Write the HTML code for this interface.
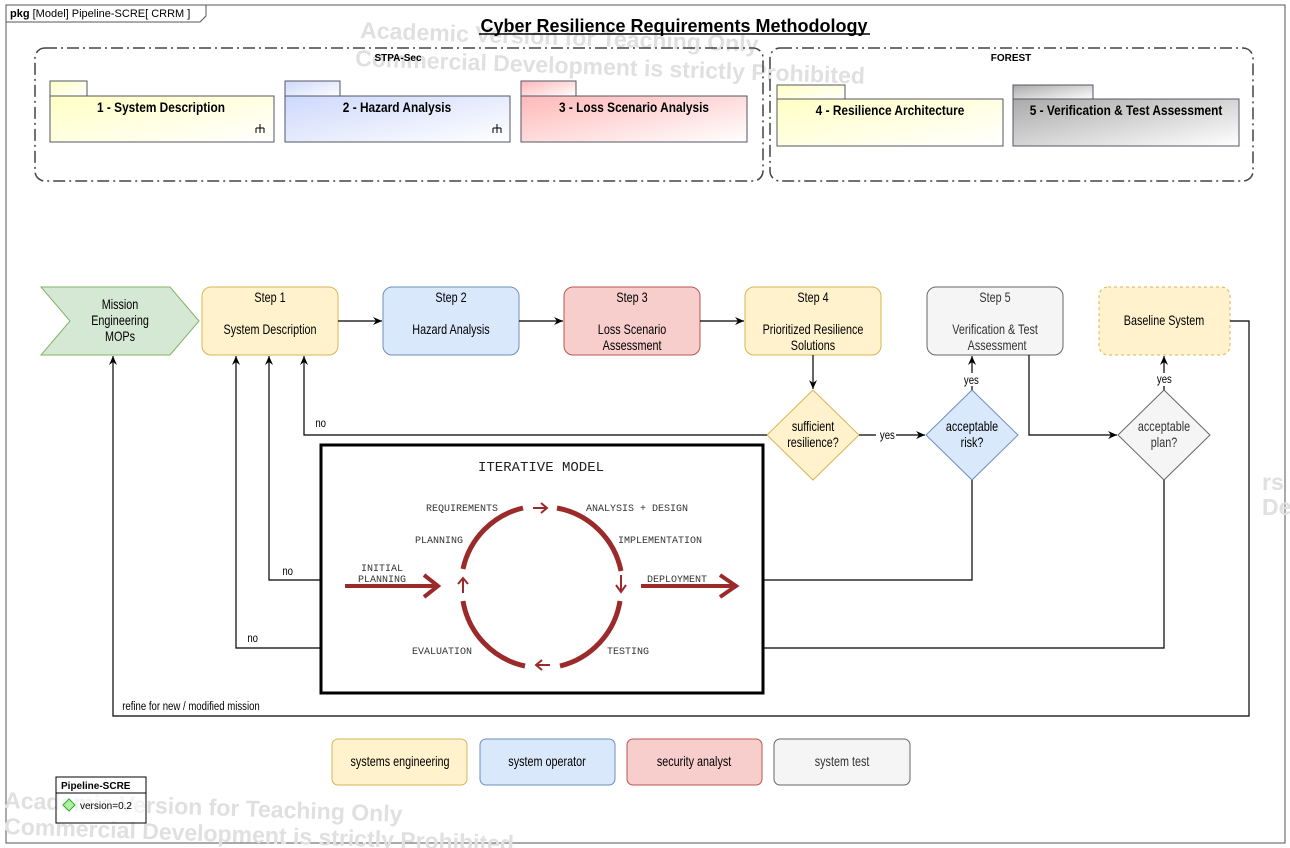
<!DOCTYPE html>
<html><head><meta charset="utf-8"><style>
html,body{margin:0;padding:0;background:#fff;}
svg{display:block;}
.n{font-family:"Liberation Sans",sans-serif;font-size:13.5px;fill:#000;}
.n text{transform-box:fill-box;transform-origin:center;transform:scaleX(0.8);}
.b{font-family:"Liberation Sans",sans-serif;font-weight:bold;}
.pk{transform-box:fill-box;transform-origin:center;transform:scaleX(0.88);}
.m{font-family:"Liberation Mono","DejaVu Sans Mono",monospace;font-size:10px;fill:#333;}
.wm{font-family:"Liberation Sans",sans-serif;font-size:23px;font-weight:bold;fill:#e0e0e0;}
</style></head><body>
<svg width="1290" height="848" viewBox="0 0 1290 848" xmlns="http://www.w3.org/2000/svg">
<defs>
<marker id="a" markerWidth="10" markerHeight="10" refX="9" refY="5" orient="auto" markerUnits="userSpaceOnUse"><path d="M0,1 L9,5 L0,9 L3,5 z" fill="#000"/></marker>
<linearGradient id="g1" x1="0" x2="1" y1="0" y2="1"><stop offset="0" stop-color="#ffffc4"/><stop offset="1" stop-color="#fff"/></linearGradient>
<linearGradient id="g2" x1="0" x2="1" y1="0" y2="1"><stop offset="0" stop-color="#cdd8fb"/><stop offset="1" stop-color="#fff"/></linearGradient>
<linearGradient id="g3" x1="0" x2="1" y1="0" y2="1"><stop offset="0" stop-color="#ffb8b8"/><stop offset="1" stop-color="#fff"/></linearGradient>
<linearGradient id="g5" x1="0" x2="1" y1="0" y2="1"><stop offset="0" stop-color="#aaa"/><stop offset="1" stop-color="#fff"/></linearGradient>
</defs>
<rect x="6" y="5" width="1279" height="838" fill="#fff" stroke="#555"/>
<path d="M6,22 H200 L206,16 V5" fill="none" stroke="#555"/>
<text x="10" y="17" font-family="Liberation Sans,sans-serif" font-size="11"><tspan font-weight="bold">pkg</tspan> [Model] Pipeline-SCRE[ CRRM ]</text>
<text class="wm" x="360" y="38" transform="rotate(2 360 38)">Academic Version for Teaching Only</text>
<text class="wm" x="355" y="66" transform="rotate(2 355 66)">Commercial Development is strictly Prohibited</text>
<text class="b" x="674" y="32" font-size="18" text-anchor="middle">Cyber Resilience Requirements Methodology</text>
<line x1="479" y1="34" x2="870" y2="34" stroke="#000" stroke-width="1.5"/>
<rect x="35" y="48" width="728" height="133" rx="10" fill="none" stroke="#444" stroke-width="1.5" stroke-dasharray="12,4,2,4"/>
<rect x="770" y="48" width="483" height="133" rx="10" fill="none" stroke="#444" stroke-width="1.5" stroke-dasharray="12,4,2,4"/>
<text class="b" x="398" y="61" font-size="10" text-anchor="middle">STPA-Sec</text>
<text class="b" x="1011" y="61" font-size="10" text-anchor="middle">FOREST</text>
<g stroke="#556" fill="url(#g1)"><rect x="50" y="81" width="37" height="16"/><rect x="50" y="96" width="224" height="46"/></g>
<g stroke="#556" fill="url(#g2)"><rect x="285" y="81" width="55" height="16"/><rect x="285" y="96" width="225" height="46"/></g>
<g stroke="#556" fill="url(#g3)"><rect x="521" y="81" width="55" height="16"/><rect x="521" y="96" width="226" height="46"/></g>
<g stroke="#556" fill="url(#g1)"><rect x="777" y="85" width="68" height="15"/><rect x="777" y="99" width="226" height="47"/></g>
<g stroke="#556" fill="url(#g5)"><rect x="1013" y="85" width="80" height="15"/><rect x="1013" y="99" width="226" height="47"/></g>
<g class="b" font-size="13.5" text-anchor="middle">
<text class="pk" x="161" y="112">1 - System Description</text>
<text class="pk" x="397" y="112">2 - Hazard Analysis</text>
<text class="pk" x="634" y="112">3 - Loss Scenario Analysis</text>
<text class="pk" x="890" y="115">4 - Resilience Architecture</text>
<text class="pk" x="1126" y="115">5 - Verification &amp; Test Assessment</text>
</g>
<g stroke="#000" fill="none"><path d="M260,133 V124 M256,128 H264 M256,128 V133 M264,128 V133"/><path d="M497,133 V124 M493,128 H501 M493,128 V133 M501,128 V133"/></g>
<path d="M41,287 H170 L199,321 L170,355 H41 L70,321 Z" fill="#d5e8d4" stroke="#82b366"/>
<g class="n" text-anchor="middle">
<text x="120" y="309">Mission</text>
<text x="120" y="325">Engineering</text>
<text x="120" y="341">MOPs</text>
</g>
<rect x="202" y="287" width="136" height="68" rx="9" fill="#fff2cc" stroke="#d6b656"/>
<rect x="383" y="287" width="136" height="68" rx="9" fill="#dae8fc" stroke="#6c8ebf"/>
<rect x="564" y="287" width="136" height="68" rx="9" fill="#f8cecc" stroke="#b85450"/>
<rect x="745" y="287" width="136" height="68" rx="9" fill="#fff2cc" stroke="#d6b656"/>
<rect x="927" y="287" width="136" height="68" rx="9" fill="#f5f5f5" stroke="#666"/>
<rect x="1099" y="287" width="131" height="68" rx="9" fill="#fff2cc" stroke="#d6b656" stroke-dasharray="3,3"/>
<g class="n" text-anchor="middle">
<text x="270" y="302">Step 1</text><text x="270" y="334">System Description</text>
<text x="451" y="302">Step 2</text><text x="451" y="334">Hazard Analysis</text>
<text x="632" y="302">Step 3</text><text x="632" y="334">Loss Scenario</text><text x="632" y="350">Assessment</text>
<text x="813" y="302">Step 4</text><text x="813" y="334">Prioritized Resilience</text><text x="813" y="350">Solutions</text>
<text x="995" y="302" fill="#333">Step 5</text><text x="995" y="334" fill="#333">Verification &amp; Test</text><text x="997" y="350" fill="#333">Assessment</text>
<text x="1164" y="325">Baseline System</text>
</g>
<polygon points="813,390 859,435 813,480 767,435" fill="#fff2cc" stroke="#d6b656"/>
<polygon points="972,390 1018,435 972,480 926,435" fill="#dae8fc" stroke="#6c8ebf"/>
<polygon points="1164,390 1210,435 1164,480 1118,435" fill="#f5f5f5" stroke="#666"/>
<g class="n" text-anchor="middle">
<text x="813" y="431">sufficient</text><text x="813" y="447">resilience?</text>
<text x="972" y="431">acceptable</text><text x="972" y="447">risk?</text>
<text x="1164" y="431" fill="#333">acceptable</text><text x="1164" y="447" fill="#333">plan?</text>
</g>
<g stroke="#000" fill="none" stroke-width="1.2">
<line x1="338" y1="321" x2="382" y2="321" marker-end="url(#a)"/>
<line x1="519" y1="321" x2="563" y2="321" marker-end="url(#a)"/>
<line x1="700" y1="321" x2="744" y2="321" marker-end="url(#a)"/>
<line x1="813" y1="355" x2="813" y2="389" marker-end="url(#a)"/>
<polyline points="767,435 304,435 304,356" marker-end="url(#a)"/>
<line x1="859" y1="435" x2="925" y2="435" marker-end="url(#a)"/>
<line x1="972" y1="390" x2="972" y2="356" marker-end="url(#a)"/>
<polyline points="1029,355 1029,435 1117,435" marker-end="url(#a)"/>
<line x1="1164" y1="390" x2="1164" y2="356" marker-end="url(#a)"/>
<polyline points="1230,321 1249,321 1249,716 113,716 113,356" marker-end="url(#a)"/>
<polyline points="972,480 972,580 763,580"/>
<polyline points="321,580 269,580 269,356" marker-end="url(#a)"/>
<polyline points="1164,480 1164,648 763,648"/>
<polyline points="321,648 236,648 236,356" marker-end="url(#a)"/>
</g>
<rect x="876" y="429" width="20" height="12" fill="#fff"/>
<rect x="961" y="373" width="22" height="13" fill="#fff"/>
<rect x="1153" y="373" width="22" height="13" fill="#fff"/>
<g class="n" style="font-size:12px">
<text x="878" y="439">yes</text>
<text x="962" y="384">yes</text>
<text x="1155" y="383">yes</text>
<text x="314" y="427">no</text><text x="281" y="575">no</text><text x="246" y="642">no</text>
<text x="105" y="710">refine for new / modified mission</text>
</g>
<rect x="321" y="445" width="442" height="248" fill="#fff" stroke="#000" stroke-width="3"/>
<text x="541" y="471" font-family="Liberation Mono,monospace" font-size="14" fill="#222" text-anchor="middle">ITERATIVE MODEL</text>
<g fill="none" stroke="#9b2a2a" stroke-width="5">
<path d="M463,569 A80,80 0 0 1 523,508"/>
<path d="M557,508 A80,80 0 0 1 621,571"/>
<path d="M620,601 A80,80 0 0 1 560,666"/>
<path d="M525,666 A80,80 0 0 1 463,601"/>
<path d="M345,586 H436 M424,575 L438,586 L424,597" stroke-width="4"/>
<path d="M641,586 H734 M720,575 L736,586 L720,597" stroke-width="4"/>
<path d="M533,508 H546 M541,503 L547,508 L541,513" stroke-width="2"/>
<path d="M621,575 V590 M616,585 L621,592 L626,585" stroke-width="2"/>
<path d="M550,665 H537 M542,660 L536,665 L542,670" stroke-width="2"/>
<path d="M463,593 V579 M458,584 L463,578 L468,584" stroke-width="2"/>
</g>
<g class="m">
<text x="426" y="511">REQUIREMENTS</text>
<text x="586" y="511">ANALYSIS + DESIGN</text>
<text x="415" y="543">PLANNING</text>
<text x="618" y="543">IMPLEMENTATION</text>
<text x="361" y="571">INITIAL</text><text x="358" y="582">PLANNING</text>
<text x="647" y="582">DEPLOYMENT</text>
<text x="412" y="654">EVALUATION</text>
<text x="607" y="654">TESTING</text>
</g>
<rect x="332" y="739" width="135" height="46" rx="6" fill="#fff2cc" stroke="#d6b656"/>
<rect x="480" y="739" width="135" height="46" rx="6" fill="#dae8fc" stroke="#6c8ebf"/>
<rect x="627" y="739" width="135" height="46" rx="6" fill="#f8cecc" stroke="#b85450"/>
<rect x="774" y="739" width="136" height="46" rx="6" fill="#f5f5f5" stroke="#666"/>
<g class="n" text-anchor="middle">
<text x="400" y="766">systems engineering</text>
<text x="547" y="766">system operator</text>
<text x="694" y="766">security analyst</text>
<text x="842" y="766" fill="#333">system test</text>
</g>
<text class="wm" x="1262" y="490">rs</text>
<text class="wm" x="1262" y="515">De</text>
<text class="wm" x="4" y="808" font-size="20" transform="rotate(2 4 808)">Academic Version for Teaching Only</text>
<text class="wm" x="4" y="834" font-size="20" transform="rotate(2 4 834)">Commercial Development is strictly Prohibited</text>
<rect x="56" y="777" width="90" height="46" fill="#fff" fill-opacity="0.6" stroke="#000"/>
<line x1="56" y1="793" x2="146" y2="793" stroke="#000"/>
<text class="b" x="61" y="789" font-size="10">Pipeline-SCRE</text>
<polygon points="69,799 75,805 69,811 63,805" fill="#aef0a0" stroke="#3a3"/>
<text x="80" y="809" font-family="Liberation Sans,sans-serif" font-size="10">version=0.2</text>
</svg>
</body></html>
